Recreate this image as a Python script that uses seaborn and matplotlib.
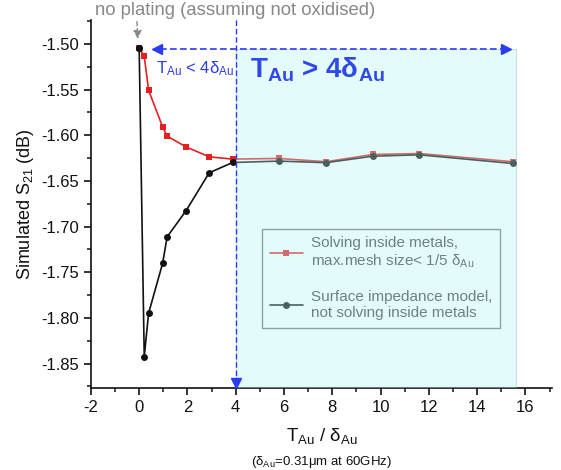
import pandas as pd
import seaborn as sns
import matplotlib.pyplot as plt
from matplotlib.patches import Rectangle
from matplotlib.ticker import MultipleLocator

# thickness / skin depth and simulated S21 (dB)
ratio = [0, 0.21, 0.39, 0.97, 1.16, 1.94, 2.90, 3.87, 5.80, 7.74, 9.68, 11.61, 15.48]
s21_solving = [-1.5044, -1.5134, -1.5507, -1.5907, -1.6010, -1.6127, -1.6236,
               -1.6261, -1.6254, -1.6290, -1.6210, -1.6200, -1.6290]
s21_surface = [-1.5044, -1.8424, -1.7950, -1.7403, -1.7112, -1.6827, -1.6411,
               -1.6298, -1.6283, -1.6300, -1.6229, -1.6214, -1.6309]
labels = ["Solving inside metals,\nmax.mesh size< 1/5 δ$_{\\rm Au}$",
          "Surface impedance model,\nnot solving inside metals"]

df = pd.DataFrame({"ratio": ratio, "solving": s21_solving, "surface": s21_surface})

sns.set_style("ticks")
plt.rcParams['font.family'] = ['Liberation Sans', 'DejaVu Sans']
plt.rcParams['mathtext.fontset'] = 'custom'
plt.rcParams['mathtext.rm'] = 'Liberation Sans'
plt.rcParams['mathtext.it'] = 'Liberation Sans:italic'
plt.rcParams['mathtext.bf'] = 'Liberation Sans:bold'
plt.rcParams['axes.unicode_minus'] = False

fig = plt.figure(figsize=(5.61, 4.70), dpi=100)
ax = fig.add_axes([0.162, 0.174, 0.822, 0.783])

ylo, yhi = -1.877, -1.474
blue = '#2a3cf0'

sns.lineplot(data=df, x="ratio", y="surface", ax=ax, color='#111111', marker='o',
             markersize=5, markeredgewidth=0, linewidth=1.2, sort=False,
             estimator=None, label=labels[1], zorder=3)
sns.lineplot(data=df, x="ratio", y="solving", ax=ax, color='#e62020', marker='s',
             markersize=4.5, markeredgewidth=0, linewidth=1.2, sort=False,
             estimator=None, label=labels[0], zorder=2)
# black point at zero sits on top
ax.plot(ratio[:1], s21_surface[:1], 'o', color='#111111', ms=5, mew=0, zorder=4)

ax.set_xlim(-2, 17.1)
ax.set_ylim(ylo, yhi)
ax.xaxis.set_major_locator(MultipleLocator(2))
ax.xaxis.set_minor_locator(MultipleLocator(1))
ax.yaxis.set_major_locator(MultipleLocator(0.05))
ax.yaxis.set_minor_locator(MultipleLocator(0.025))
ax.yaxis.set_major_formatter(plt.FormatStrFormatter('%.2f'))
ax.tick_params(which='major', direction='out', length=5, width=1.2, labelsize=12, colors='#111111')
ax.tick_params(which='minor', direction='out', length=3, width=1.2)
for s in ['top', 'right']:
    ax.spines[s].set_visible(False)
for s in ['left', 'bottom']:
    ax.spines[s].set_linewidth(1.2)
    ax.spines[s].set_color('#111111')

ax.set_ylabel("Simulated S$_{21}$ (dB)", fontsize=13, color='#111111')
ax.set_xlabel("T$_{\\rm Au}$ / δ$_{\\rm Au}$", fontsize=13.5, color='#111111', labelpad=8)
fig.text(0.573, 0.01, "(δ$_{\\rm Au}$=0.31μm at 60GHz)", ha='center', fontsize=9.5, color='#111111')

handles, _ = ax.get_legend_handles_labels()
leg = ax.legend(handles[::-1], labels, loc='upper left', bbox_to_anchor=(0.371, 0.434),
                fontsize=11, frameon=True, fancybox=False, edgecolor='#777777',
                facecolor='white', framealpha=1, labelspacing=1.3, handlelength=2.2,
                handletextpad=0.5, borderpad=0.5, borderaxespad=0, labelcolor='#444444')
leg.set_zorder(5)

# shaded region T > 4 delta, laid over lines and legend
ax.add_patch(Rectangle((4, ylo), 11.6, -1.506 - ylo, facecolor=(178/255, 246/255, 246/255),
                       edgecolor='#999999', linewidth=0.8, alpha=0.35, zorder=6))

# blue dashed guides
ax.plot([4, 4], [yhi, ylo + 0.004], color=blue, lw=1.0, ls=(0, (4, 2)), zorder=7, clip_on=False)
ax.plot([4], [ylo + 0.006], marker='v', color=blue, ms=7, zorder=7, clip_on=False)
ax.plot([0.85, 15.1], [-1.506, -1.506], color=blue, lw=1.2, ls=(0, (4, 2)), zorder=7)
ax.plot([0.75], [-1.506], marker='<', color=blue, ms=7, zorder=7)
ax.plot([15.2], [-1.506], marker='>', color=blue, ms=7, zorder=7)

ax.text(0.7, -1.527, "T$_{\\rm Au}$ < 4δ$_{\\rm Au}$", fontsize=12, color=blue, va='center', zorder=8)
ax.text(4.6, -1.528, "T$_{\\bf Au}$ > 4δ$_{\\bf Au}$", fontsize=20, fontweight='bold',
        color='#3048e6', va='center', zorder=8)

# no plating note
ax.text(-1.85, -1.463, "no plating (assuming not oxidised)", fontsize=13.3, color='#888888',
        va='center', clip_on=False)
ax.annotate("", xy=(-0.05, -1.4975), xytext=(-0.1, -1.4725),
            arrowprops=dict(arrowstyle='-|>', color='#888888', lw=1.0, ls=(0, (3, 2)),
                            mutation_scale=12), annotation_clip=False)

fig.savefig("out.png", dpi=100)
